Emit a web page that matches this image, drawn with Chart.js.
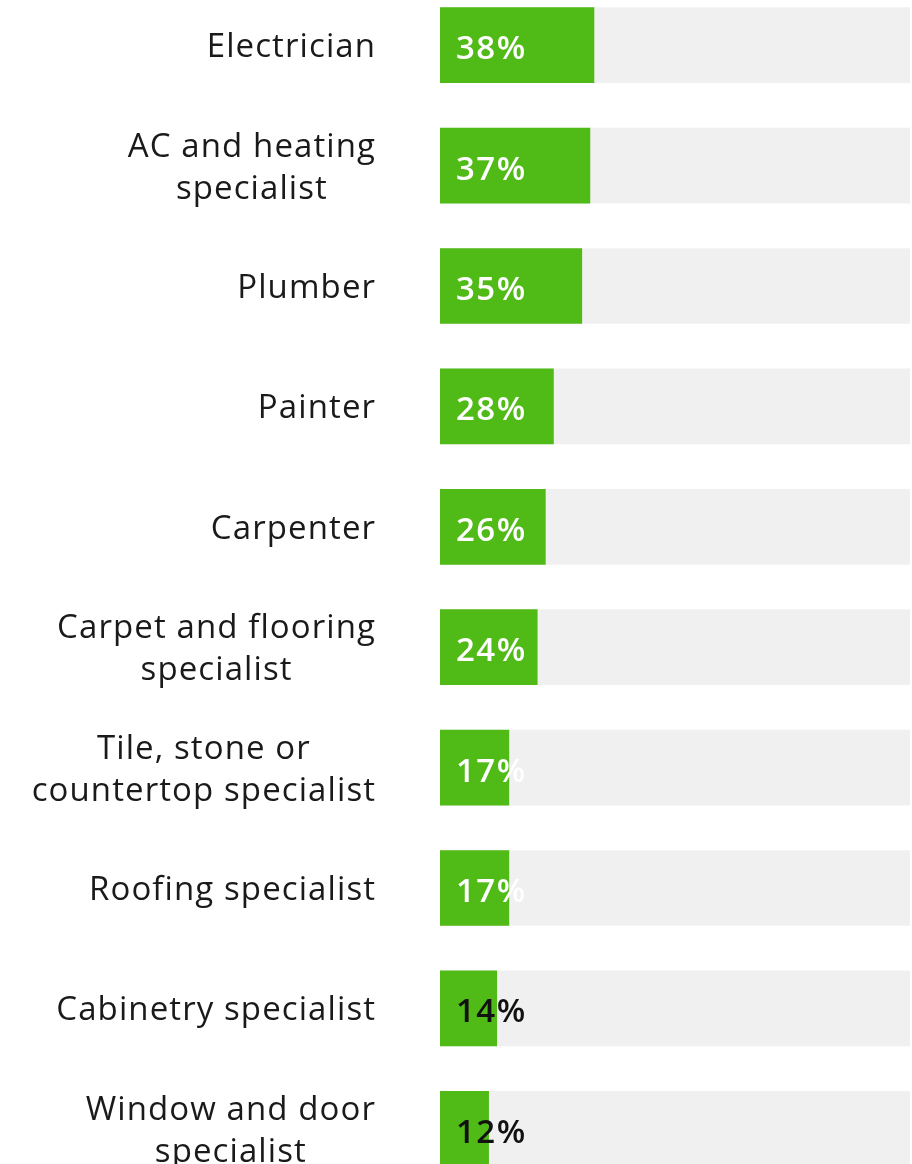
<!DOCTYPE html>
<html lang="en">
<head>
  <meta charset="UTF-8">
  <title>Trades</title>
  <script src="https://cdn.jsdelivr.net/npm/chart.js"></script>
  <style>
    html, body {
      margin: 0;
      padding: 0;
      background: #ffffff;
      overflow: hidden;
      width: 912px;
      height: 1164px;
    }
    .wrap {
      position: absolute;
      left: 0;
      top: -15px;
      width: 912px;
      height: 1204px;
    }
  </style>
</head>
<body>
<div class="wrap">
  <canvas id="tradesChart"></canvas>
</div>

<script>
  // categories and shares (%)
  const trades = [
    'Electrician',
    ['AC and heating', 'specialist'],
    'Plumber',
    'Painter',
    'Carpenter',
    ['Carpet and flooring', 'specialist'],
    ['Tile, stone or', 'countertop specialist'],
    'Roofing specialist',
    'Cabinetry specialist',
    ['Window and door', 'specialist']
  ];
  const shares = [38, 37, 35, 28, 26, 24, 17, 17, 14, 12];
  const scaleMax = 116;
  const trackValues = trades.map(() => scaleMax);

  // category names: block right aligned, lines centred on each other
  const categoryLabels = {
    id: 'categoryLabels',
    afterDraw(chart) {
      const ctx = chart.ctx;
      const y = chart.scales.y;
      const right = y.right - 65 + 1.1;
      ctx.save();
      ctx.font = '400 33px "Open Sans"';
      ctx.letterSpacing = '1.1px';
      ctx.fillStyle = '#1a1a1a';
      ctx.textAlign = 'center';
      ctx.textBaseline = 'alphabetic';
      trades.forEach((label, i) => {
        const lines = Array.isArray(label) ? label : [label];
        const w = Math.max(...lines.map(l => ctx.measureText(l).width));
        const cx = right - w / 2;
        const cy = y.getPixelForTick(i);
        lines.forEach((line, j) => {
          const off = (j - (lines.length - 1) / 2) * 42;
          ctx.fillText(line, cx, cy + off + 12);
        });
      });
      ctx.restore();
    }
  };

  // value labels inside the green bars
  const valueLabels = {
    id: 'valueLabels',
    afterDatasetsDraw(chart) {
      const ctx = chart.ctx;
      const meta = chart.getDatasetMeta(1);
      ctx.save();
      ctx.font = '600 33px "Open Sans"';
      ctx.letterSpacing = '1.5px';
      ctx.textBaseline = 'alphabetic';
      ctx.textAlign = 'left';
      meta.data.forEach((bar, i) => {
        ctx.fillStyle = shares[i] >= 15 ? '#ffffff' : '#111111';
        ctx.fillText(shares[i] + '%', bar.base + 16, bar.y + 14);
      });
      ctx.restore();
    }
  };

  new Chart(document.getElementById('tradesChart'), {
    type: 'bar',
    data: {
      labels: trades,
      datasets: [{
        data: trackValues,
        backgroundColor: '#f0f0f0',
        grouped: false,
        order: 2,
        barThickness: 75
      }, {
        data: shares,
        backgroundColor: '#50ba16',
        grouped: false,
        order: 1,
        barThickness: 75
      }]
    },
    options: {
      indexAxis: 'y',
      responsive: true,
      maintainAspectRatio: false,
      animation: false,
      layout: { padding: { left: 0, right: 2, top: 0, bottom: 0 } },
      plugins: {
        legend: { display: false },
        tooltip: { enabled: false }
      },
      scales: {
        x: {
          display: false,
          min: 0,
          max: scaleMax
        },
        y: {
          grid: { display: false, drawTicks: false },
          border: { display: false },
          ticks: { display: false },
          afterFit: scale => {
            scale.width = 440;
            scale.paddingTop = 0;
            scale.paddingBottom = 0;
          }
        }
      }
    },
    plugins: [valueLabels, categoryLabels]
  });
</script>
</body>
</html>
